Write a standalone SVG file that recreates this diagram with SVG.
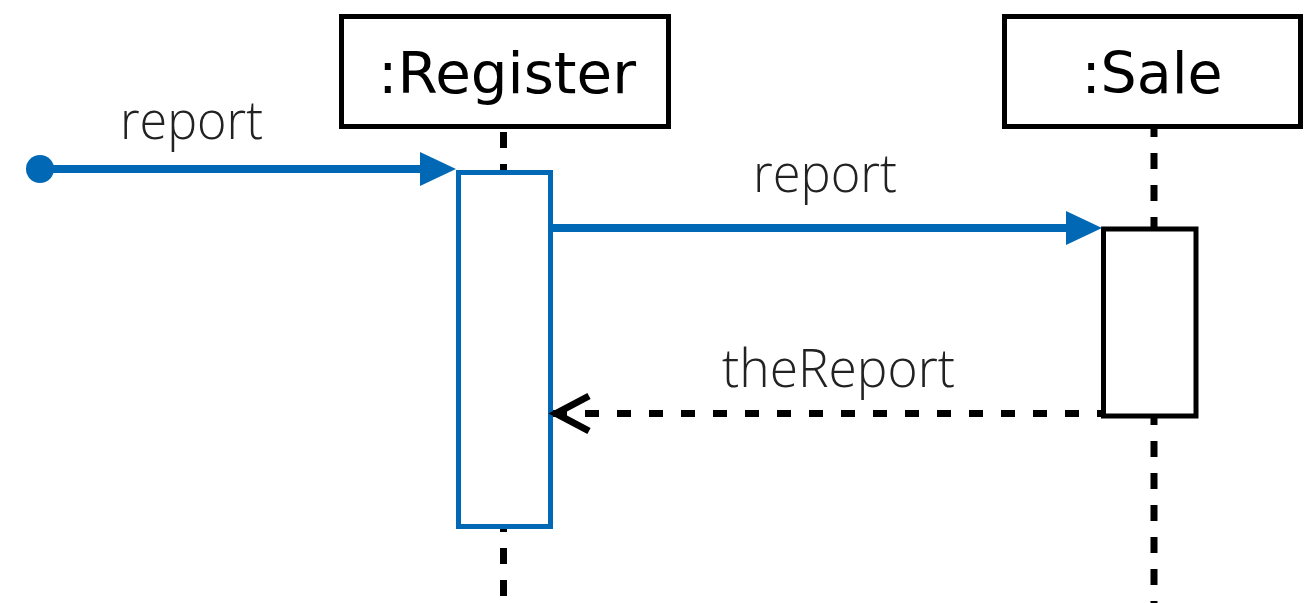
<svg xmlns="http://www.w3.org/2000/svg" width="1305" height="603" viewBox="0 0 1305 603">
<style>
.box{fill:#fff;stroke:#000;stroke-width:5}
.name{font-family:"DejaVu Sans",sans-serif;font-size:57px;fill:#000;text-anchor:middle}
.lbl{font-family:"Open Sans","Liberation Sans",sans-serif;font-weight:300;font-size:54px;fill:#222;text-anchor:middle}
.life{stroke:#000;stroke-width:7;stroke-dasharray:16 16;fill:none}
.msg{stroke:#0068b4;stroke-width:8;fill:none}
.ret{stroke:#000;stroke-width:7;stroke-dasharray:14 18;fill:none}
</style>
<rect width="1305" height="603" fill="#fff"/>
<g id="lifelines">
<line class="life" x1="503.5" y1="100" x2="503.5" y2="603"/>
<line class="life" x1="1154" y1="121" x2="1154" y2="603"/>
</g>
<g id="register">
<rect class="box" x="341.5" y="16.5" width="327" height="110"/>
<text class="name" x="507" y="93" textLength="258" lengthAdjust="spacingAndGlyphs">:Register</text>
</g>
<g id="sale">
<rect class="box" x="1004.5" y="16.5" width="296" height="110"/>
<text class="name" x="1152" y="93">:Sale</text>
</g>
<g id="register-activation">
<rect x="458.5" y="172.5" width="92" height="354" fill="#fff" stroke="#0068b4" stroke-width="5"/>
</g>
<g id="sale-activation">
<rect class="box" x="1103.5" y="229" width="92.5" height="187"/>
</g>
<g id="connectors">
<circle cx="40" cy="169" r="14" fill="#0068b4"/>
<line class="msg" x1="40" y1="169" x2="425" y2="169"/>
<polygon points="456,169 420,152 420,186" fill="#0068b4"/>
<line class="msg" x1="553" y1="228" x2="1070" y2="228"/>
<polygon points="1102,228 1066,211 1066,245" fill="#0068b4"/>
<line class="ret" x1="553" y1="413.5" x2="1101" y2="413.5"/>
<polyline points="589,396 556,413.5 589,431" fill="none" stroke="#000" stroke-width="7"/>
</g>
<g id="labels">
<text class="lbl" x="191.5" y="139" textLength="143" lengthAdjust="spacingAndGlyphs">report</text>
<text class="lbl" x="825" y="192" textLength="144" lengthAdjust="spacingAndGlyphs">report</text>
<text class="lbl" x="838.5" y="387" textLength="233" lengthAdjust="spacingAndGlyphs">theReport</text>
</g>
</svg>
